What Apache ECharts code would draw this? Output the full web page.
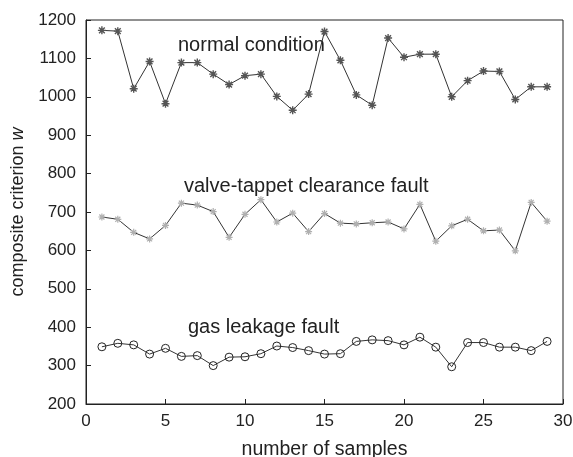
<!DOCTYPE html>
<html>
<head>
    <meta charset="utf-8">
    <title>composite criterion</title>
    <script src="https://cdn.jsdelivr.net/npm/echarts@6/dist/echarts.min.js"></script>
    <style>
        html, body { margin: 0; padding: 0; background: #fff; }
        #chart { width: 573px; height: 457px; }
    </style>
</head>
<body>
    <div id="chart"></div>

    <script>
    // 样本编号
    const samples = [1,2,3,4,5,6,7,8,9,10,11,12,13,14,15,16,17,18,19,20,21,22,23,24,25,26,27,28,29];

    // 各工况的综合判据 w
    const normalVals = [1173,1171,1021,1092,982,1089,1089,1059,1032,1055,1059,1001,965,1007,
                        1170,1095,1005,978,1153,1103,1111,1111,1000,1042,1067,1066,993,1026,1026];
    const valveVals = [687,681,647,630,665,723,718,701,634,694,732,674,697,649,
                       696,671,669,672,674,656,720,624,664,681,651,653,599,725,676];
    const gasVals = [349,358,354,330,345,324,326,300,322,323,331,351,347,339,
                     330,331,363,367,365,354,374,348,297,360,360,348,348,339,363];

    const xTicks = [0, 5, 10, 15, 20, 25, 30];
    const yTicks = [200, 300, 400, 500, 600, 700, 800, 900, 1000, 1100, 1200];

    const pair = (vals) => samples.map((s, i) => [s, vals[i]]);

    const asterisk = 'path://M0,-5L0,5M-5,0L5,0M-3.6,-3.6L3.6,3.6M-3.6,3.6L3.6,-3.6';
    const font = 'Liberation Sans, Arial, sans-serif';
    const ink = '#222';

    const option = {
        animation: false,
        grid: {
            left: 86, right: 10, top: 20, bottom: 53,
            outerBoundsMode: 'none', containLabel: false,
            show: true, borderColor: ink, borderWidth: 1
        },
        xAxis: {
            type: 'value', min: xTicks[0], max: xTicks[xTicks.length - 1], interval: 5,
            name: 'number of samples', nameLocation: 'middle', nameGap: 36,
            nameTextStyle: { fontSize: 19.5, color: ink, fontFamily: font },
            axisLine: { lineStyle: { color: ink } },
            axisTick: { inside: true, length: 5, lineStyle: { color: ink } },
            axisLabel: { fontSize: 17, color: ink, fontFamily: font, margin: 9, formatter: v => String(v) },
            splitLine: { show: false }
        },
        yAxis: {
            type: 'value', min: yTicks[0], max: yTicks[yTicks.length - 1], interval: 100,
            name: 'composite criterion {i|w}', nameLocation: 'middle', nameGap: 58,
            nameTextStyle: {
                fontSize: 18, color: ink, fontFamily: font,
                rich: { i: { fontSize: 18, fontStyle: 'italic', color: ink, fontFamily: font } }
            },
            axisLine: { show: true, lineStyle: { color: ink } },
            axisTick: { show: true, inside: true, length: 5, lineStyle: { color: ink } },
            axisLabel: { fontSize: 17, color: ink, fontFamily: font, margin: 10, formatter: v => String(v) },
            splitLine: { show: false }
        },
        graphic: [
            { type: 'text', left: 178, top: 35, style: { text: 'normal condition', fontSize: 20, fill: ink, fontFamily: font } },
            { type: 'text', left: 184, top: 176, style: { text: 'valve-tappet clearance fault', fontSize: 20, fill: ink, fontFamily: font } },
            { type: 'text', left: 188, top: 317, style: { text: 'gas leakage fault', fontSize: 20, fill: ink, fontFamily: font } }
        ],
        series: [
            {
                type: 'line', data: pair(normalVals), symbol: asterisk, symbolSize: 8,
                lineStyle: { color: '#333', width: 1 },
                itemStyle: { color: 'transparent', borderColor: '#555', borderWidth: 1.4 }
            },
            {
                type: 'line', data: pair(valveVals), symbol: asterisk, symbolSize: 7,
                lineStyle: { color: '#333', width: 1 },
                itemStyle: { color: 'transparent', borderColor: '#b0b0b0', borderWidth: 1.2 }
            },
            {
                type: 'line', data: pair(gasVals), symbol: 'circle', symbolSize: 8,
                lineStyle: { color: '#333', width: 1 },
                itemStyle: { color: 'transparent', borderColor: ink, borderWidth: 1 }
            }
        ]
    };

    const chart = echarts.init(document.getElementById('chart'));
    chart.setOption(option);
    </script>
</body>
</html>
